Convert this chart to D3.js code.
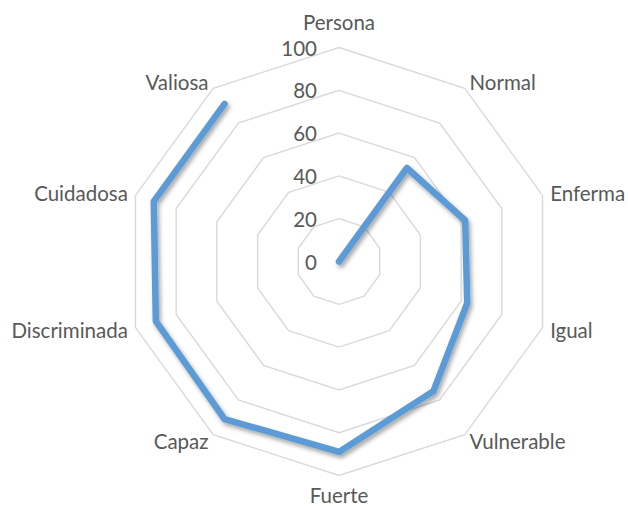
<!DOCTYPE html>
<html>
<head>
<meta charset="utf-8">
<script src="https://cdn.jsdelivr.net/npm/d3@7"></script>
<style>
  html, body { margin: 0; padding: 0; background: #fff; }
  svg { display: block; }
  text { font-family: Lato, "Open Sans", sans-serif; fill: #595959; }
</style>
</head>
<body>
<svg id="chart" width="628" height="506"></svg>
<script>
const categories = ["Persona", "Normal", "Enferma", "Igual", "Vulnerable", "Fuerte", "Capaz", "Discriminada", "Cuidadosa", "Valiosa"];
const values = [0, 54, 62, 63, 75, 89, 91, 90, 91, 91];
const tickValues = [0, 20, 40, 60, 80, 100];

const W = 628, H = 506;
const cx = 339, cy = 261.5, R = 214;
const svg = d3.select("#chart");

const defs = svg.append("defs");
const f = defs.append("filter").attr("id", "shadow")
  .attr("x", "-10%").attr("y", "-10%").attr("width", "130%").attr("height", "130%");
f.append("feDropShadow").attr("dx", 2).attr("dy", 3).attr("stdDeviation", 2)
  .attr("flood-color", "#000").attr("flood-opacity", 0.35);

const r = d3.scaleLinear().domain([0, 100]).range([0, R]);
const angle = d3.scaleLinear().domain([0, categories.length]).range([0, 2 * Math.PI]);

const g = svg.append("g").attr("transform", `translate(${cx},${cy})`);

// grid decagons
const gridLine = d3.lineRadial().curve(d3.curveLinearClosed)
  .angle((d, i) => angle(i)).radius(d => r(d));
tickValues.filter(t => t > 0).forEach(t => {
  g.append("path")
    .attr("d", gridLine(categories.map(() => t)))
    .attr("fill", "none")
    .attr("stroke", "#d9d9d9")
    .attr("stroke-width", 1.4);
});

// tick labels
g.selectAll(".tick").data(tickValues).join("text")
  .attr("x", -22)
  .attr("y", d => -r(d))
  .attr("text-anchor", "end")
  .attr("dominant-baseline", "central")
  .attr("font-size", 20.5)
  .text(d => d);

// category labels
g.selectAll(".cat").data(categories).join("text")
  .each(function(d, i) {
    const a = angle(i);
    const s = Math.sin(a), c = Math.cos(a);
    const rr = R + 8;
    let x = rr * s, y = -rr * c;
    let anchor = "middle";
    if (s > 0.01) anchor = "start";
    else if (s < -0.01) anchor = "end";
    else y += c > 0 ? -18 : 11;
    d3.select(this)
      .attr("x", x).attr("y", y)
      .attr("text-anchor", anchor)
      .attr("dominant-baseline", "central")
      .attr("font-size", 20.5)
      .text(d);
  });

// data line (open, as in reference)
const dataLine = d3.lineRadial()
  .angle((d, i) => angle(i)).radius(d => r(d));
g.append("path")
  .attr("d", dataLine(values))
  .attr("fill", "none")
  .attr("stroke", "#5b9bd5")
  .attr("stroke-width", 6.5)
  .attr("stroke-linejoin", "round")
  .attr("stroke-linecap", "round")
  .attr("filter", "url(#shadow)");
</script>
</body>
</html>
